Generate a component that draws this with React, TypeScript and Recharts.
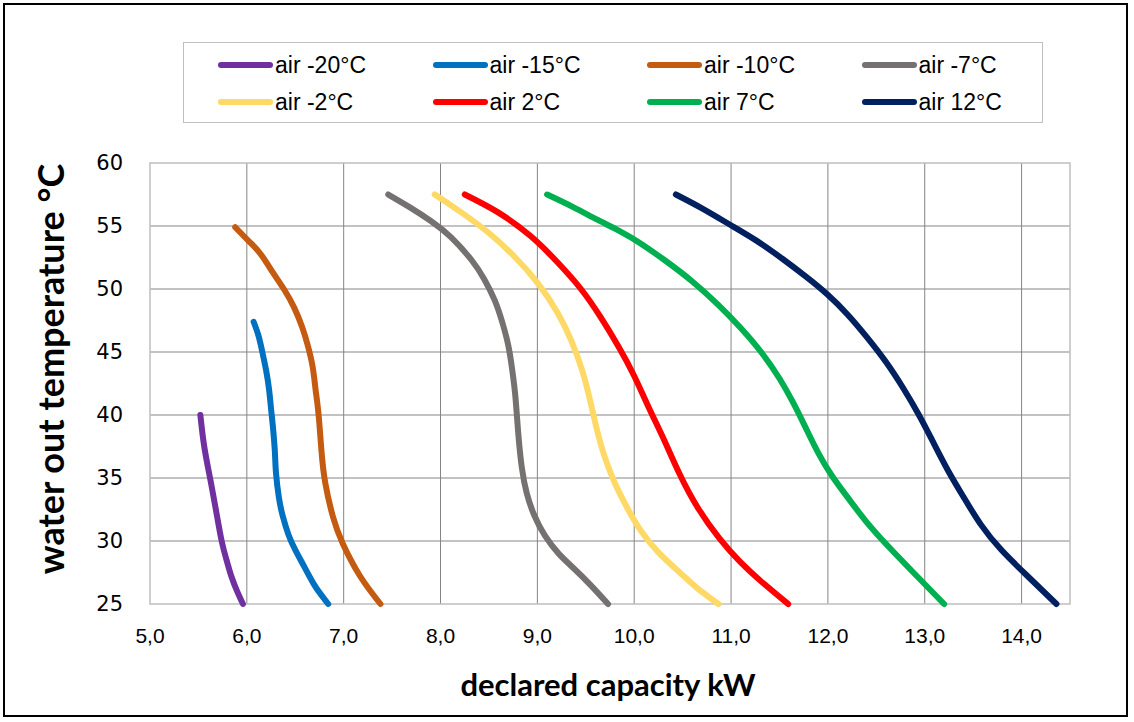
import { LineChart, Line, XAxis, YAxis, CartesianGrid, ReferenceArea } from 'recharts';

const X_TICKS = [5, 6, 7, 8, 9, 10, 11, 12, 13, 14];
const Y_TICKS = [25, 30, 35, 40, 45, 50, 55, 60];
const GRID_X = [6, 7, 8, 9, 10, 11, 12, 13, 14];
const GRID_Y = [30, 35, 40, 45, 50, 55];

// capacity kW / water out temperature
const AIR_M20 = [
  { kw: 5.52, t: 40 }, { kw: 5.56, t: 37.5 }, { kw: 5.62, t: 35 }, { kw: 5.68, t: 32.5 },
  { kw: 5.74, t: 30 }, { kw: 5.79, t: 28.5 }, { kw: 5.84, t: 27.2 }, { kw: 5.9, t: 26 },
  { kw: 5.96, t: 25 },
];
const AIR_M15 = [
  { kw: 6.07, t: 47.4 }, { kw: 6.12, t: 46.3 }, { kw: 6.16, t: 45 }, { kw: 6.2, t: 43.5 },
  { kw: 6.23, t: 42 }, { kw: 6.25, t: 40.5 }, { kw: 6.27, t: 39 }, { kw: 6.29, t: 37 },
  { kw: 6.3, t: 35.5 }, { kw: 6.33, t: 33.5 }, { kw: 6.37, t: 32 }, { kw: 6.43, t: 30.5 },
  { kw: 6.5, t: 29.3 }, { kw: 6.59, t: 28 }, { kw: 6.69, t: 26.6 }, { kw: 6.77, t: 25.7 },
  { kw: 6.84, t: 25 },
];
const AIR_M10 = [
  { kw: 5.88, t: 54.9 }, { kw: 6.02, t: 53.8 }, { kw: 6.14, t: 52.8 }, { kw: 6.27, t: 51.3 },
  { kw: 6.39, t: 49.9 }, { kw: 6.49, t: 48.5 }, { kw: 6.57, t: 47 }, { kw: 6.63, t: 45.5 },
  { kw: 6.68, t: 43.8 }, { kw: 6.71, t: 42 }, { kw: 6.74, t: 40.1 }, { kw: 6.77, t: 37.2 },
  { kw: 6.81, t: 34.6 }, { kw: 6.89, t: 31.9 }, { kw: 6.99, t: 29.8 }, { kw: 7.17, t: 27.2 },
  { kw: 7.38, t: 25 },
];
const AIR_M7 = [
  { kw: 7.46, t: 57.5 }, { kw: 7.68, t: 56.5 }, { kw: 7.9, t: 55.4 }, { kw: 8.11, t: 54.1 },
  { kw: 8.32, t: 52.3 }, { kw: 8.45, t: 50.8 }, { kw: 8.56, t: 49.1 }, { kw: 8.64, t: 47.3 },
  { kw: 8.7, t: 45.5 }, { kw: 8.74, t: 43.6 }, { kw: 8.77, t: 41.7 }, { kw: 8.79, t: 39.8 },
  { kw: 8.81, t: 37.9 }, { kw: 8.84, t: 35.8 }, { kw: 8.89, t: 33.8 }, { kw: 8.97, t: 32 },
  { kw: 9.08, t: 30.4 }, { kw: 9.22, t: 29 }, { kw: 9.38, t: 27.8 }, { kw: 9.55, t: 26.5 },
  { kw: 9.73, t: 25 },
];
const AIR_M2 = [
  { kw: 7.94, t: 57.5 }, { kw: 8.21, t: 56.1 }, { kw: 8.49, t: 54.5 }, { kw: 8.76, t: 52.6 },
  { kw: 9.0, t: 50.5 }, { kw: 9.21, t: 48.1 }, { kw: 9.35, t: 45.9 }, { kw: 9.46, t: 43.6 },
  { kw: 9.54, t: 41.3 }, { kw: 9.61, t: 39 }, { kw: 9.69, t: 36.8 }, { kw: 9.8, t: 34.6 },
  { kw: 9.93, t: 32.6 }, { kw: 10.07, t: 30.8 }, { kw: 10.25, t: 29.1 }, { kw: 10.47, t: 27.5 },
  { kw: 10.66, t: 26.2 }, { kw: 10.87, t: 25 },
];
const AIR_2 = [
  { kw: 8.25, t: 57.5 }, { kw: 8.59, t: 56.1 }, { kw: 8.93, t: 54.2 }, { kw: 9.21, t: 52.1 },
  { kw: 9.45, t: 50 }, { kw: 9.65, t: 47.8 }, { kw: 9.84, t: 45.4 }, { kw: 10.0, t: 43.1 },
  { kw: 10.15, t: 40.6 }, { kw: 10.31, t: 38 }, { kw: 10.47, t: 35.3 }, { kw: 10.66, t: 32.6 },
  { kw: 10.88, t: 30.2 }, { kw: 11.1, t: 28.3 }, { kw: 11.34, t: 26.6 }, { kw: 11.59, t: 25 },
];
const AIR_7 = [
  { kw: 9.1, t: 57.5 }, { kw: 9.37, t: 56.5 }, { kw: 9.62, t: 55.5 }, { kw: 9.85, t: 54.6 },
  { kw: 10.07, t: 53.6 }, { kw: 10.33, t: 52.2 }, { kw: 10.6, t: 50.6 }, { kw: 10.86, t: 48.8 },
  { kw: 11.1, t: 46.9 }, { kw: 11.32, t: 44.9 }, { kw: 11.5, t: 42.9 }, { kw: 11.64, t: 41 },
  { kw: 11.77, t: 39 }, { kw: 11.9, t: 37 }, { kw: 12.04, t: 35.2 }, { kw: 12.2, t: 33.5 },
  { kw: 12.4, t: 31.5 }, { kw: 12.62, t: 29.6 }, { kw: 12.87, t: 27.6 }, { kw: 13.2, t: 25 },
];
const AIR_12 = [
  { kw: 10.43, t: 57.5 }, { kw: 10.7, t: 56.4 }, { kw: 10.99, t: 55.1 }, { kw: 11.27, t: 53.8 },
  { kw: 11.53, t: 52.4 }, { kw: 11.77, t: 51 }, { kw: 11.99, t: 49.6 }, { kw: 12.2, t: 48 },
  { kw: 12.4, t: 46.2 }, { kw: 12.6, t: 44.2 }, { kw: 12.78, t: 42.1 }, { kw: 12.94, t: 40 },
  { kw: 13.09, t: 37.8 }, { kw: 13.24, t: 35.6 }, { kw: 13.4, t: 33.5 }, { kw: 13.58, t: 31.3 },
  { kw: 13.79, t: 29.3 }, { kw: 14.05, t: 27.3 }, { kw: 14.36, t: 25 },
];

const SERIES = [
  { name: 'air -20°C', color: '#7030A0', data: AIR_M20 },
  { name: 'air -15°C', color: '#0070C0', data: AIR_M15 },
  { name: 'air -10°C', color: '#C55A11', data: AIR_M10 },
  { name: 'air -7°C', color: '#767171', data: AIR_M7 },
  { name: 'air -2°C', color: '#FFD966', data: AIR_M2 },
  { name: 'air 2°C', color: '#FF0000', data: AIR_2 },
  { name: 'air 7°C', color: '#00B050', data: AIR_7 },
  { name: 'air 12°C', color: '#002060', data: AIR_12 },
];

const fmtKw = (v: number) => v.toFixed(1).replace('.', ',');

function LegendBox() {
  return (
    <div
      style={{
        position: 'absolute',
        left: 183,
        top: 42,
        width: 860,
        height: 81,
        border: '1px solid #bfbfbf',
        boxSizing: 'border-box',
      }}
    >
      {SERIES.map((s, i) => (
        <div
          key={s.name}
          style={{
            position: 'absolute',
            left: 34 + (i % 4) * 214.5,
            top: i < 4 ? 8 : 45,
            height: 28,
            display: 'flex',
            alignItems: 'center',
            fontFamily: '"Liberation Sans", sans-serif',
            fontSize: 23,
            color: '#000',
            whiteSpace: 'nowrap',
          }}
        >
          <span
            style={{
              display: 'inline-block',
              width: 55,
              height: 6,
              borderRadius: 3,
              background: s.color,
              marginRight: 2,
            }}
          />
          {s.name}
        </div>
      ))}
    </div>
  );
}

export default function App() {
  return (
    <div style={{ position: 'absolute', left: 0, top: 0, width: 1134, height: 722, background: '#fff' }}>
      <div
        style={{
          position: 'absolute',
          left: 3,
          top: 3,
          width: 1125,
          height: 714,
          border: '2px solid #000',
          boxSizing: 'border-box',
        }}
      />
      <LineChart width={1134} height={722} margin={{ top: 163, right: 64, bottom: 88, left: 100 }}>
        <CartesianGrid stroke="#858585" horizontalValues={GRID_Y} verticalValues={GRID_X} />
        <ReferenceArea x1={5} x2={14.5} y1={25} y2={60} fill="none" stroke="#bfbfbf" strokeWidth={1.5} />
        <XAxis
          type="number"
          dataKey="kw"
          domain={[5, 14.5]}
          ticks={X_TICKS}
          tickFormatter={fmtKw}
          axisLine={false}
          tickLine={false}
          tickMargin={18}
          height={30}
          tick={{ fill: '#000', fontSize: 21, fontFamily: '"Liberation Sans", sans-serif' }}
          label={{
            content: () => (
              <text x={608} y={696} textAnchor="middle" fontFamily="Lato, sans-serif" fontWeight="bold" fontSize={31} fill="#000">
                declared capacity kW
              </text>
            ),
          }}
        />
        <YAxis
          type="number"
          domain={[25, 60]}
          ticks={Y_TICKS}
          axisLine={false}
          tickLine={false}
          tickMargin={21}
          width={50}
          tick={{ fill: '#000', fontSize: 21, fontFamily: '"DejaVu Sans", sans-serif' }}
          label={{
            content: () => (
              <text
                x={50}
                y={369}
                transform="rotate(-90 50 369)"
                textAnchor="middle"
                dominantBaseline="central"
                fontFamily="Lato, sans-serif"
                fontWeight="bold"
                fontSize={36}
                fill="#000"
              >
                water out temperature °C
              </text>
            ),
          }}
        />
        {SERIES.map((s) => (
          <Line
            key={s.name}
            data={s.data}
            dataKey="t"
            name={s.name}
            type="natural"
            stroke={s.color}
            strokeWidth={6}
            strokeLinecap="round"
            dot={false}
            isAnimationActive={false}
          />
        ))}
      </LineChart>
      <LegendBox />
    </div>
  );
}
